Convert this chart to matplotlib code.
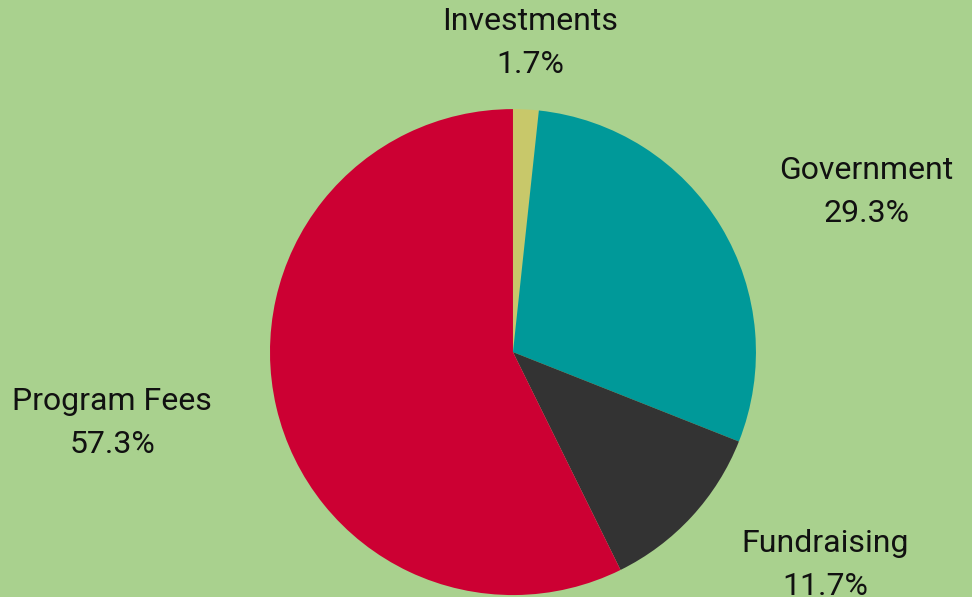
import matplotlib.pyplot as plt

labels = ['Investments', 'Government', 'Fundraising', 'Program Fees']
shares = [1.7, 29.3, 11.7, 57.3]
colors = ['#C8C86A', '#009999', '#333333', '#CC0033']

# label centres in data units (radius = 1)
label_pos = [(0.07, 1.272), (1.453, 0.658), (1.284, -0.875), (-1.650, -0.292)]

plt.rcParams['font.family'] = ['Roboto', 'DejaVu Sans']

fig = plt.figure(figsize=(9.72, 5.97), dpi=100)
fig.patch.set_facecolor('#A9D18E')
ax = fig.add_axes([0, 0, 1, 1])
ax.set_facecolor('#A9D18E')

ax.pie(shares, colors=colors, startangle=90, counterclock=False, radius=1,
       wedgeprops=dict(linewidth=0))

for name, val, (x, y) in zip(labels, shares, label_pos):
    ax.text(x, y, f'{name}\n{val:.1f}%', ha='center', va='center',
            fontsize=23, color='#111111', linespacing=1.6)

ax.set_xlim(-2.111, 1.889)
ax.set_ylim(-1.008, 1.449)
ax.set_aspect('equal')
ax.axis('off')

fig.savefig('out.png', facecolor=fig.get_facecolor())
